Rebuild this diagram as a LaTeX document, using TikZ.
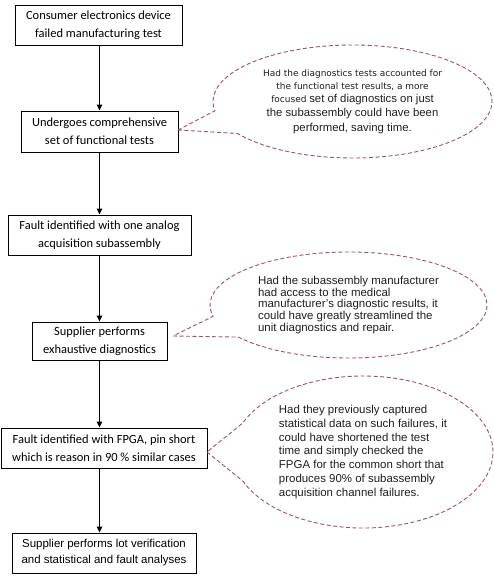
\documentclass[tikz,border=0pt]{standalone}
\usepackage{fontspec}
\setmainfont{Carlito}
\newfontfamily\arialf{Liberation Sans}
\newfontfamily\dejaf{DejaVu Sans}
\usetikzlibrary{shapes.callouts,arrows.meta}
\definecolor{dashred}{RGB}{160,80,100}
\definecolor{txtgray}{RGB}{30,30,30}
\begin{document}
\begin{tikzpicture}[x=1bp,y=-1bp,
  box/.style={draw, line width=0.9bp, inner sep=0pt, align=center,
    font=\fontsize{12.5}{18}\selectfont, minimum height=40bp},
  bubble/.style={ellipse callout, draw=dashred, line width=0.9bp,
    dash pattern=on 4bp off 2.5bp, inner sep=0pt, text=txtgray},
  flow/.style={line width=1bp, -{Triangle[length=6bp,width=5.5bp]}}]
\useasboundingbox (0,0) rectangle (494,582);
\node[box, minimum width=167bp] (b1) at (98.5,25) {Consumer electronics device\\failed manufacturing test};
\node[box, minimum width=157bp, minimum height=41bp] (b2) at (99.5,131.5) {Undergoes comprehensive\\set of functional tests};
\node[box, minimum width=183bp] (b3) at (99.5,235) {Fault identified with one analog\\acquisition subassembly};
\node[box, minimum width=135bp, minimum height=38bp] (b4) at (99.5,341) {Supplier performs\\exhaustive diagnostics};
\node[box, minimum width=206bp] (b5) at (104,448) {Fault identified with FPGA, pin short\\which is reason in 90 \% similar cases};
\node[box, minimum width=184bp, font=\arialf\fontsize{11.5}{16}\selectfont] (b6) at (104,553) {Supplier performs lot verification\\and statistical and fault analyses};

\draw[flow] (b1.south -| b2.south) -- (b2.north);
\draw[flow] (b2.south) -- (b3.north);
\draw[flow] (b3.south) -- (b4.north);
\draw[flow] (b4.south) -- (b4.south |- b5.north);
\draw[flow] (b5.south -| b4.south) -- (b6.north -| b4.south);

\node[bubble, minimum width=279bp, minimum height=113bp, align=center,
  callout absolute pointer={(178,130)}, callout pointer arc=25,
  font=\dejaf\fontsize{9}{13}\selectfont] (c1) at (352.5,101.5)
  {Had the diagnostics tests accounted for\\the functional test results, a more\\focused {\arialf\fontsize{11.4}{14}\selectfont set of diagnostics on just}\\[1.5bp]{\arialf\fontsize{11.4}{14}\selectfont the subassembly could have been}\\[1.5bp]{\arialf\fontsize{11.4}{14}\selectfont performed, saving time.}};

\node[bubble, minimum width=277bp, minimum height=106bp, align=left,
  callout absolute pointer={(173,336)}, callout pointer arc=25,
  font=\arialf\fontsize{11.5}{12}\selectfont] (c2) at (348.5,305)
  {Had the subassembly manufacturer\\had access to the medical\\manufacturer’s diagnostic results, it\\could have greatly streamlined the\\unit diagnostics and repair.};

\node[bubble, minimum width=260bp, minimum height=152bp, align=left,
  callout absolute pointer={(207,452)}, callout pointer arc=45,
  font=\arialf\fontsize{11.5}{14}\selectfont] (c3) at (363,452)
  {Had they previously captured\\statistical data on such failures, it\\could have shortened the test\\time and simply checked the\\FPGA for the common short that\\produces 90\% of subassembly\\acquisition channel failures.};
\end{tikzpicture}
\end{document}
